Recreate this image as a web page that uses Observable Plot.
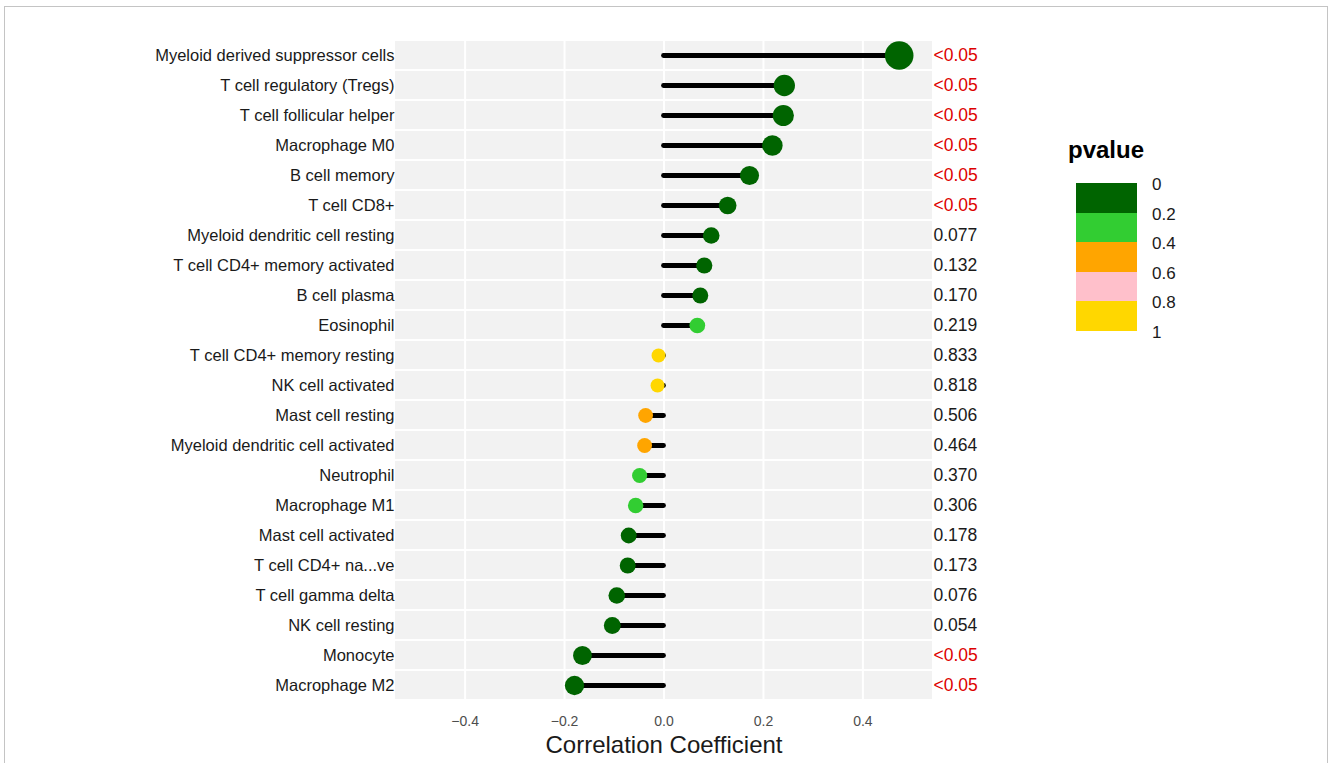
<!DOCTYPE html>
<html>
<head>
<meta charset="utf-8">
<script src="https://cdn.jsdelivr.net/npm/d3@7"></script>
<script src="https://cdn.jsdelivr.net/npm/@observablehq/plot@0.6"></script>
<style>
  html, body { margin: 0; padding: 0; background: #fff; }
  #wrap { position: relative; width: 1328px; height: 763px; overflow: hidden; background: #fff;
          font-family: "Liberation Sans", Arial, Helvetica, sans-serif; }
  #frame { position: absolute; left: 4px; top: 6px; width: 1322px; height: 820px; border: 1px solid #c4c4c4; box-sizing: content-box; }
  #chart { position: absolute; left: 0; top: 0; }
  #legend { position: absolute; left: 0; top: 0; }
</style>
</head>
<body>
<div id="wrap">
  <div id="frame"></div>
  <div id="chart"></div>
  <div id="legend"></div>
</div>
<script>
// ---- data (top to bottom) ----
const cells = [
  "Myeloid derived suppressor cells",
  "T cell regulatory (Tregs)",
  "T cell follicular helper",
  "Macrophage M0",
  "B cell memory",
  "T cell CD8+",
  "Myeloid dendritic cell resting",
  "T cell CD4+ memory activated",
  "B cell plasma",
  "Eosinophil",
  "T cell CD4+ memory resting",
  "NK cell activated",
  "Mast cell resting",
  "Myeloid dendritic cell activated",
  "Neutrophil",
  "Macrophage M1",
  "Mast cell activated",
  "T cell CD4+ na...ve",
  "T cell gamma delta",
  "NK cell resting",
  "Monocyte",
  "Macrophage M2"
];
const correlation = [
  0.473, 0.242, 0.240, 0.218, 0.172, 0.128, 0.095, 0.081, 0.073, 0.067,
  -0.011, -0.013, -0.037, -0.039, -0.049, -0.057, -0.071, -0.073, -0.095, -0.104,
  -0.164, -0.180
];
const pLabels = [
  "<0.05", "<0.05", "<0.05", "<0.05", "<0.05", "<0.05", "0.077", "0.132", "0.170", "0.219",
  "0.833", "0.818", "0.506", "0.464", "0.370", "0.306", "0.178", "0.173", "0.076", "0.054",
  "<0.05", "<0.05"
];
const xTicks = [-0.4, -0.2, 0, 0.2, 0.4];
const legendBreaks = [0, 0.2, 0.4, 0.6, 0.8, 1];
const legendLabels = ["0", "0.2", "0.4", "0.6", "0.8", "1"];
const legendColors = ["#006400", "#32CD32", "#FFA500", "#FFC0CB", "#FFD700"];

const data = cells.map((c, i) => ({
  cell: c,
  cor: correlation[i],
  plabel: pLabels[i],
  sig: pLabels[i].startsWith("<"),
  p: parseFloat(pLabels[i].replace("<", ""))
}));

const xDomain = [-0.54, 0.54];
const font = "Liberation Sans, Arial, Helvetica, sans-serif";

const chart = Plot.plot({
  width: 1328,
  height: 763,
  marginLeft: 395,
  marginRight: 396,
  marginTop: 40,
  marginBottom: 63,
  style: { fontFamily: font, background: "transparent", overflow: "visible" },
  x: { domain: xDomain, label: null, axis: null },
  y: { domain: cells, padding: 0, label: null, axis: null },
  color: { type: "threshold", domain: legendBreaks.slice(1, -1), range: legendColors },
  r: { type: "linear", domain: [0, 0.473], range: [6.8, 14.3] },
  marks: [
    Plot.barX(data, { x1: xDomain[0], x2: xDomain[1], y: "cell", fill: "#f2f2f2", insetTop: 1, insetBottom: 1 }),
    Plot.gridX(xTicks, { stroke: "#ffffff", strokeOpacity: 1, strokeWidth: 2 }),
    Plot.ruleY(data, { y: "cell", x1: 0, x2: "cor", stroke: "#000", strokeWidth: 4.8, strokeLinecap: "round" }),
    Plot.dot(data, { x: "cor", y: "cell", r: d => Math.abs(d.cor), fill: "p" }),
    Plot.axisY({ tickSize: 0, tickPadding: 1, fontSize: 16.5, color: "#1a1a1a", label: null }),
    Plot.axisX({ ticks: xTicks, tickFormat: d3.format(".1f"), tickSize: 0, tickPadding: 16, fontSize: 14, color: "#4d4d4d", label: null }),
    Plot.text(data.filter(d => d.sig), { y: "cell", x: xDomain[1], text: "plabel", textAnchor: "start", dx: 1, fontSize: 17.5, fill: "#dd0000" }),
    Plot.text(data.filter(d => !d.sig), { y: "cell", x: xDomain[1], text: "plabel", textAnchor: "start", dx: 1, fontSize: 17.5, fill: "#1a1a1a" }),
    Plot.text(["Correlation Coefficient"], { frameAnchor: "bottom", text: d => d, dy: 52, fontSize: 24, fill: "#1a1a1a" })
  ]
});
document.getElementById("chart").appendChild(chart);

// ---- legend ----
const leg = document.getElementById("legend");
const boxTop = 183, boxH = 29.6, boxLeft = 1076, boxW = 61;
let html = `<div style="position:absolute;left:1068px;top:135px;font-size:24px;font-weight:bold;color:#000;line-height:30px;white-space:nowrap">pvalue</div>`;
legendColors.forEach((c, i) => {
  html += `<div style="position:absolute;left:${boxLeft}px;top:${boxTop + i * boxH}px;width:${boxW}px;height:${boxH + 0.5}px;background:${c}"></div>`;
});
legendLabels.forEach((t, i) => {
  html += `<div style="position:absolute;left:1152px;top:${boxTop + i * boxH - 9}px;font-size:17px;line-height:22px;color:#1a1a1a;white-space:nowrap">${t}</div>`;
});
leg.innerHTML = html;
</script>
</body>
</html>
